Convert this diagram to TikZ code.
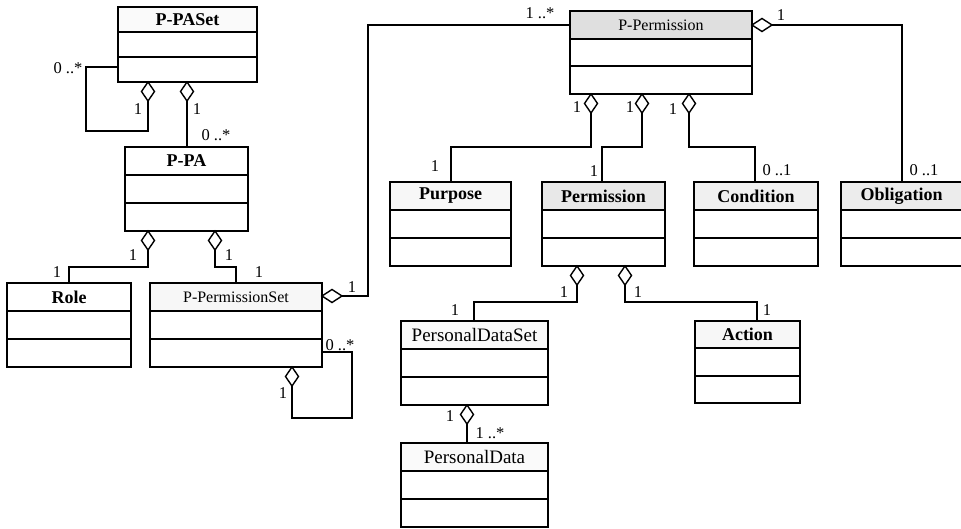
\documentclass[tikz,border=0pt]{standalone}
\usepackage{fontspec}
\setmainfont{Liberation Serif}
\usetikzlibrary{calc,shapes.geometric}
\tikzset{
 boxline/.style={line width=1.8pt},
 conn/.style={line width=1.3pt},
 vdiam/.style={diamond, draw, fill=white, line width=1.4pt, minimum width=13pt, minimum height=19pt, inner sep=0pt, outer sep=0pt, anchor=north},
 hdiam/.style={diamond, draw, fill=white, line width=1.4pt, minimum width=20pt, minimum height=13pt, inner sep=0pt, outer sep=0pt, anchor=west},
 mult/.style={font=\fontsize{16.5}{18}\selectfont, inner sep=0pt},
 bname/.style={font=\fontsize{18}{20}\selectfont\bfseries, inner sep=0pt},
 rname/.style={font=\fontsize{16}{18}\selectfont, inner sep=0pt},
 pname/.style={font=\fontsize{19}{21}\selectfont, inner sep=0pt},
}
\newcommand\umlbox[8]{%
 \node[minimum width={#4-#2}, minimum height={#5-#3}, inner sep=0pt, outer sep=0pt, anchor=north west] (#1) at (#2,#3) {};
 \fill[#6] (#1.north west) rectangle ($(#1.north east)!1/3!(#1.south east)$);
 \draw[boxline] ($(#1.north west)!1/3!(#1.south west)$) -- ($(#1.north east)!1/3!(#1.south east)$);
 \draw[boxline] ($(#1.north west)!2/3!(#1.south west)$) -- ($(#1.north east)!2/3!(#1.south east)$);
 \draw[boxline] (#1.north west) rectangle (#1.south east);
 \node[#7] (#1-t) at ($(#1.north)!1/6!(#1.south)$) {#8};
}
\begin{document}
\begin{tikzpicture}[x=1pt,y=-1pt]
\useasboundingbox (0,0) rectangle (961,529);
\fill[white] (0,0) rectangle (961,529);

% classes
\umlbox{ppaset}{118}{7}{257}{82}{gray!4}{bname}{P-PASet}
\umlbox{ppa}{125}{147}{248}{231}{white}{bname}{P-PA}
\umlbox{role}{7}{283}{131}{367}{white}{bname}{Role}
\umlbox{ppset}{150}{283}{322}{367}{gray!6}{rname}{P-PermissionSet}
\umlbox{pperm}{570}{11}{752}{94}{gray!25}{rname}{P-Permission}
\umlbox{purpose}{390}{182}{511}{266}{gray!6}{bname}{Purpose}
\umlbox{permission}{542}{182}{665}{266}{gray!18}{bname}{Permission}
\umlbox{condition}{694}{182}{818}{266}{gray!12}{bname}{Condition}
\umlbox{obligation}{841}{182}{962}{266}{gray!15}{bname}{Obligation}
\umlbox{pds}{401}{321}{548}{405}{gray!5}{pname}{PersonalDataSet}
\umlbox{action}{695}{321}{800}{403}{gray!6}{bname}{Action}
\umlbox{pdata}{401}{443}{548}{527}{gray!4}{pname}{PersonalData}

% diamonds
\node[vdiam] (dS1) at (148,82) {};
\node[vdiam] (dS2) at (187,82) {};
\node[vdiam] (dA1) at (148,231) {};
\node[vdiam] (dA2) at (215,231) {};
\node[vdiam] (dSS) at (292,367) {};
\node[vdiam] (dP1) at (591,94) {};
\node[vdiam] (dP2) at (642,94) {};
\node[vdiam] (dP3) at (689,94) {};
\node[vdiam] (dM1) at (577,266) {};
\node[vdiam] (dM2) at (625,266) {};
\node[vdiam] (dD) at (467,405) {};
\node[hdiam] (dH1) at (322,296) {};
\node[hdiam] (dH2) at (752,25) {};

% connectors
\draw[conn] (dS1.south) -- (148,131) -| (86,67) -- (ppaset.west |- 0,67);
\draw[conn] (dS2.south) -- (dS2.south |- ppa.north);
\draw[conn] (dA1.south) -- (148,267) -| (69,0 |- role.north);
\draw[conn] (dA2.south) -- (215,267) -| (236,0 |- ppset.north);
\draw[conn] (dH1.east) -- (368,296) |- (pperm.west |- 0,25);
\draw[conn] (dSS.south) -- (292,418) -| (352,352) -- (ppset.east |- 0,352);
\draw[conn] (dH2.east) -- (902,25) -- (902,0 |- obligation.north);
\draw[conn] (dP1.south) -- (591,147) -| (451,0 |- purpose.north);
\draw[conn] (dP2.south) -- (642,147) -| (602,0 |- permission.north);
\draw[conn] (dP3.south) -- (689,147) -| (755,0 |- condition.north);
\draw[conn] (dM1.south) -- (577,302) -| (474,0 |- pds.north);
\draw[conn] (dM2.south) -- (625,302) -| (757,0 |- action.north);
\draw[conn] (dD.south) -- (dD.south |- pdata.north);

% multiplicities
\node[mult] (m1) at (68,68) {0 ..*};
\node[mult] (m2) at (138,109) {1};
\node[mult] (m3) at (197,109) {1};
\node[mult] (m4) at (216,135) {0 ..*};
\node[mult] (m5) at (133,255) {1};
\node[mult] (m6) at (229,255) {1};
\node[mult] (m7) at (57,272) {1};
\node[mult] (m8) at (259,272) {1};
\node[mult] (m9) at (352,287) {1};
\node[mult] (m10) at (340,345) {0 ..*};
\node[mult] (m11) at (283,393) {1};
\node[mult] (m12) at (540,13) {1 ..*};
\node[mult] (m13) at (577,107) {1};
\node[mult] (m14) at (630,107) {1};
\node[mult] (m15) at (673,109) {1};
\node[mult] (m16) at (435,166) {1};
\node[mult] (m17) at (594,171) {1};
\node[mult] (m18) at (781,15) {1};
\node[mult] (m19) at (777,170) {0 ..1};
\node[mult] (m20) at (924,170) {0 ..1};
\node[mult] (m21) at (564,292) {1};
\node[mult] (m22) at (638,292) {1};
\node[mult] (m23) at (455,310) {1};
\node[mult] (m24) at (767,310) {1};
\node[mult] (m25) at (450,416) {1};
\node[mult] (m26) at (490,433) {1 ..*};
\end{tikzpicture}
\end{document}
